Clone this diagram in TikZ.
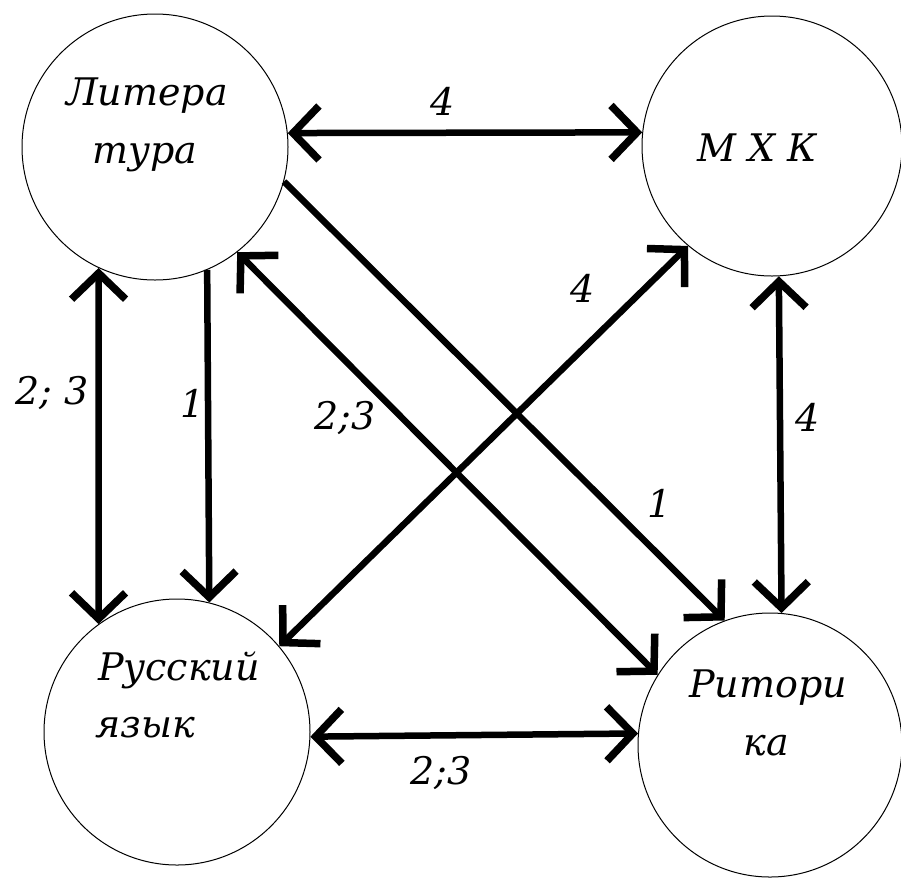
\documentclass[tikz,border=0pt]{standalone}
\usepackage{fontspec}
\setmainfont{DejaVu Serif}
\usetikzlibrary{arrows.meta}
\begin{document}
\begin{tikzpicture}[x=1pt,y=-1pt,
  subj/.style={circle, draw, line width=1pt, inner sep=0pt},
  txt/.style={font=\fontsize{38}{38}\selectfont\itshape, anchor=base, inner sep=0pt},
  num/.style={font=\fontsize{38}{38}\selectfont\itshape, inner sep=0pt},
  barb/.tip={Straight Barb[length=26pt,width=54pt,line width=7.5pt]},
  link/.style={line width=6.5pt, barb-barb},
  oneway/.style={line width=6.5pt, -barb}
]
\useasboundingbox (0,0) rectangle (901,879);
\fill[white] (0,0) rectangle (901,879);

% subjects
\node[subj, minimum size=266pt] (L) at (155,147) {};
\node[subj, minimum size=260pt] (M) at (772,146) {};
\node[subj, minimum size=266pt] (R) at (177,732) {};
\node[subj, minimum size=264pt] (T) at (770,745) {};

% subject names
\node[txt] (L1) at (147,105) {Литера};
\node[txt] (L2) at (145,163) {тура};
\node[txt] (M1) at (757,161) {М Х К};
\node[txt] (R1) at (179,680) {Русский};
\node[txt, anchor=base west] (R2) at (95,737) {язык};
\node[txt] (T1) at (768,697) {Ритори};
\node[txt] (T2) at (766,755) {ка};

% connectors
\draw[link] (L.6) -- (M.174);
\draw[link] (L.245.6) -- (R.126.3);
\draw[oneway] (L.293.5) -- (R.76.5);
\draw[link] (L.308) -- (T.148.3);
\draw[oneway] (L.345.8) -- (T.110.6);
\draw[link] (R.40.9) -- (M.230.5);
\draw[link] (M.273.5) -- (T.85.7);
\draw[link] (R.358.7) -- (T.175.6);

% labels
\node[num] (n1) at (443,101) {4};
\node[num] (n2) at (52,393) {2; 3};
\node[num] (n3) at (193,403) {1};
\node[num] (n4) at (345,418) {2;3};
\node[num] (n5) at (583,288) {4};
\node[num] (n6) at (808,417) {4};
\node[num] (n7) at (660,503) {1};
\node[num] (n8) at (441,773) {2;3};
\end{tikzpicture}
\end{document}
